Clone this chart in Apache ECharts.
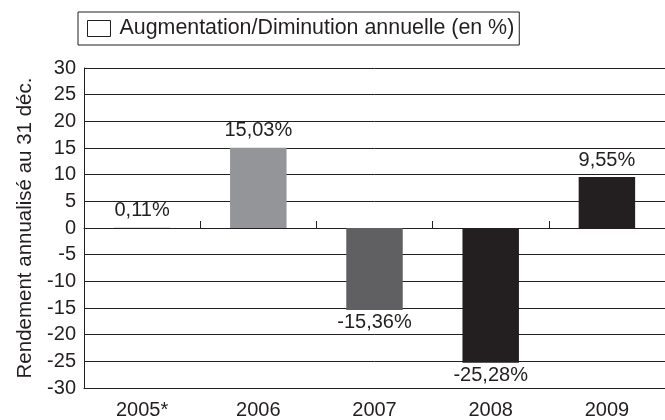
<!DOCTYPE html>
<html><head><meta charset="utf-8">
<script src="https://cdn.jsdelivr.net/npm/echarts@6/dist/echarts.min.js"></script>
<style>html,body{margin:0;padding:0;background:#fff}#c{width:665px;height:420px}</style>
</head><body><div id="c"></div>
<script>
const categories = ['2005*', '2006', '2007', '2008', '2009'];
const values = [0.11, 15.03, -15.36, -25.28, 9.55];
const labels = ['0,11%', '15,03%', '-15,36%', '-25,28%', '9,55%'];
const barColors = ['#bcbec0', '#939598', '#606062', '#231f20', '#231f20'];
const yTicks = [-30, 30, 5];
const seriesName = 'Augmentation/Diminution annuelle (en %)';
const yName = 'Rendement annualisé au 31 déc.';

const font = 'Liberation Sans, Arial, Helvetica, sans-serif';
const chart = echarts.init(document.getElementById('c'));
chart.setOption({
  animation: false,
  textStyle: { fontFamily: font },
  legend: {
    left: 78, top: 12,
    padding: [6, 5, 6, 9],
    borderColor: '#231f20', borderWidth: 1,
    itemWidth: 23, itemHeight: 16,
    itemGap: 10,
    icon: 'rect',
    itemStyle: { color: '#fff', borderColor: '#231f20', borderWidth: 1 },
    textStyle: { fontSize: 21.4, color: '#231f20', fontFamily: font, padding: [0, 0, 0, 4] },
    data: [seriesName]
  },
  grid: { left: 84, top: 68, width: 586, height: 324, containLabel: false },
  xAxis: [{
    type: 'category', data: categories, position: 'bottom',
    axisLine: { onZero: false, lineStyle: { color: '#231f20', width: 1 } },
    axisTick: { show: false },
    axisLabel: { fontSize: 20, color: '#231f20', margin: 12, fontFamily: font }
  }, {
    type: 'category', data: categories, position: 'bottom',
    axisLine: { onZero: true, lineStyle: { color: '#231f20', width: 1 } },
    axisTick: { show: true, inside: true, length: 7, lineStyle: { color: '#231f20' } },
    axisLabel: { show: false }
  }],
  yAxis: {
    type: 'value', min: yTicks[0], max: yTicks[1], interval: yTicks[2],
    name: yName, nameLocation: 'middle', nameGap: 48, nameRotate: 90,
    nameTextStyle: { fontSize: 20.5, color: '#231f20', fontFamily: font },
    axisLine: { show: true, lineStyle: { color: '#231f20', width: 1 } },
    axisTick: { show: false },
    axisLabel: { fontSize: 20, color: '#231f20', margin: 8, fontFamily: font },
    splitLine: { show: true, lineStyle: { color: '#231f20', width: 1 } }
  },
  series: [{
    name: seriesName, type: 'bar', xAxisIndex: 0,
    barWidth: '48.6%',
    itemStyle: { color: '#fff' },
    data: values.map((v, i) => ({
      value: v,
      itemStyle: { color: barColors[i] },
      label: { position: v >= 0 ? 'top' : 'bottom', distance: v >= 0 ? 7 : 3 }
    })),
    label: {
      show: true, fontSize: 20, color: '#231f20', fontFamily: font,
      formatter: p => labels[p.dataIndex]
    }
  }]
});
</script></body></html>
